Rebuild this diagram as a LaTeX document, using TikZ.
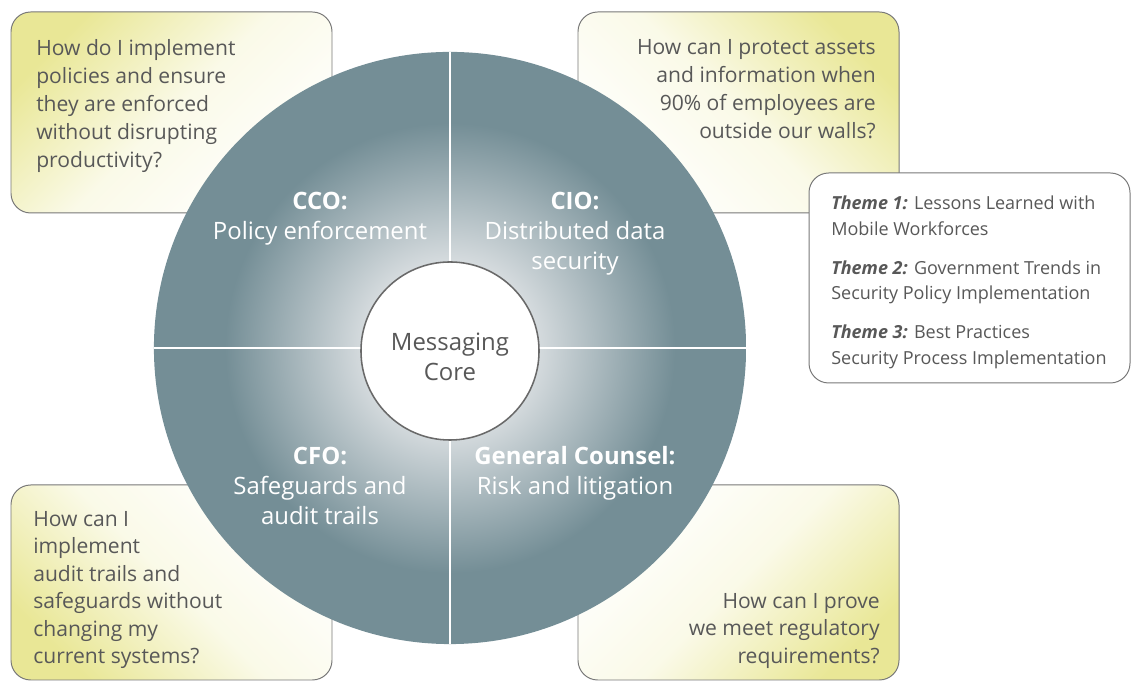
\documentclass[tikz,border=0pt]{standalone}
\usepackage{fontspec}
\setmainfont{Open Sans}
\usetikzlibrary{positioning}

\definecolor{qyellow}{RGB}{233,231,150}
\definecolor{slate}{RGB}{116,142,150}
\definecolor{corelight}{RGB}{212,218,221}
\definecolor{textgray}{RGB}{88,88,88}
\definecolor{edgegray}{RGB}{120,120,120}

% light centre fading out to the slate ring (25bp = rim)
\pgfdeclareradialshading{corefade}{\pgfpoint{0bp}{0bp}}{%
  color(0bp)=(corelight); color(7.5bp)=(corelight);
  color(19bp)=(slate); color(50bp)=(slate)}

\tikzset{
  question/.style={draw=edgegray, line width=0.7pt, rounded corners=14pt},
  qfade/.style={middle color=white!78!qyellow},
  qtext/.style={text=textgray, font=\fontsize{15}{19.9}\selectfont, inner sep=0pt},
  role/.style={text=white, font=\fontsize{17}{21.3}\selectfont, align=center, inner sep=0pt},
  themetext/.style={text=textgray, font=\fontsize{12.8}{18.1}\selectfont, align=left, anchor=north west, inner sep=0pt},
}

\begin{document}
\begin{tikzpicture}[x=0.025cm, y=0.025cm]
    \useasboundingbox (0,0) rectangle (1131,681);

    % question boxes, yellow in the outer corner
    \shadedraw[question, top color=qyellow, bottom color=white, qfade, shading angle=45] (11,468) rectangle (332,669);
    \shadedraw[question, top color=qyellow, bottom color=white, qfade, shading angle=-45] (578,468) rectangle (899,669);
    \shadedraw[question, top color=white, bottom color=qyellow, qfade, shading angle=-45] (11,1) rectangle (332,196);
    \shadedraw[question, top color=white, bottom color=qyellow, qfade, shading angle=45] (578,1) rectangle (899,196);

    \node[qtext, align=left, anchor=north west] (qcco) at (36,642) {How do I implement\\policies and ensure\\they are enforced\\without disrupting\\productivity?};
    \node[qtext, align=right, anchor=north east] (qcio) at (876,642) {How can I protect assets\\and information when\\90\% of employees are\\outside our walls?};
    \node[qtext, align=left, anchor=north west, font=\fontsize{15}{19.5}\selectfont] (qcfo) at (33,170) {How can I\\implement\\audit trails and\\safeguards without\\changing my\\current systems?};
    \node[qtext, align=right, anchor=north east, font=\fontsize{15}{19.5}\selectfont] (qgc) at (880,88) {How can I prove\\we meet regulatory\\requirements?};

    % the wheel and its four quarters
    \node[circle, minimum size=14.8cm, inner sep=0pt, shade, shading=corefade] (wheel) at (450,333) {};
    \draw[white, line width=1.8pt] (wheel.north) -- (wheel.south);
    \draw[white, line width=1.8pt] (wheel.west) -- (wheel.east);

    \node[circle, minimum size=4.45cm, inner sep=0pt, draw=textgray!90, line width=1.1pt, fill=white] (core) at (450,330) {};
    \node[text=textgray, font=\fontsize{17}{21.3}\selectfont, align=center] (coretext) at (450,324) {Messaging\\Core};

    \node[role] (cco) at (320,462) {\textbf{CCO:}\\Policy enforcement};
    \node[role] (cio) at (575,447) {\textbf{CIO:}\\Distributed data\\security};
    \node[role] (cfo) at (320,195) {\textbf{CFO:}\\Safeguards and\\audit trails};
    \node[role] (gc) at (575,208) {\textbf{General Counsel:}\\Risk and litigation};

    % themes box
    \draw[question, fill=white] (809,298) rectangle (1130,508);
    \node[themetext] (themes) at (831,485) {\textbf{\textit{Theme 1:}} Lessons Learned with\\Mobile Workforces\\[9.6pt]
        \textbf{\textit{Theme 2:}} Government Trends in\\Security Policy Implementation\\[9.6pt]
        \textbf{\textit{Theme 3:}} Best Practices\\Security Process Implementation};
\end{tikzpicture}
\end{document}
